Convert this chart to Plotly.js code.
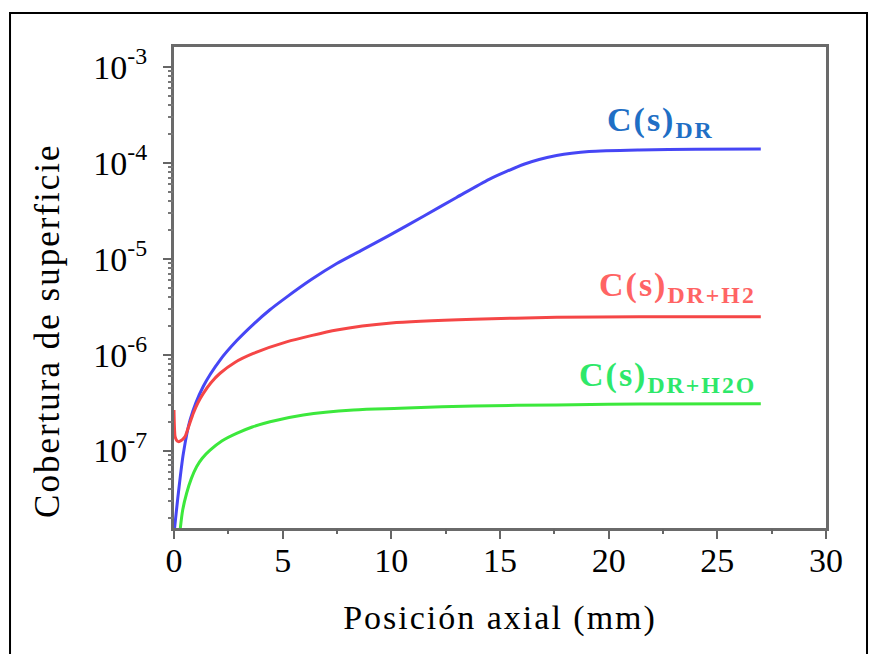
<!DOCTYPE html>
<html>
<head>
<meta charset="utf-8">
<script src="https://cdn.plot.ly/plotly-3.0.1.min.js"></script>
<style>
  html, body { margin: 0; padding: 0; background: #ffffff; }
  #chart { width: 872px; height: 654px; }
  .xtitle, .annotation-text { letter-spacing: 2px; }
</style>
</head>
<body>
<div id="chart"></div>
<script>
// Axial position (mm) and surface coverage values
const xDR = [0.02, 0.2, 0.43, 0.74, 1.35, 2.12, 2.9, 3.65, 4.4, 5.18, 6.3, 7.49, 8.6, 9.8, 11.5, 13.0, 14.5, 15.3, 16.1, 16.8, 17.6, 18.3, 19.1, 21.4, 24.0, 27.0];
const yDR = [1.5e-8, 3.59e-8, 9.33e-8, 2.09e-7, 4.68e-7, 8.79e-7, 1.41e-6, 2.07e-6, 2.92e-6, 3.98e-6, 6.03e-6, 8.91e-6, 1.216e-5, 1.70e-5, 2.79e-5, 4.35e-5, 6.73e-5, 8.13e-5, 9.66e-5, 1.084e-4, 1.189e-4, 1.259e-4, 1.312e-4, 1.361e-4, 1.387e-4, 1.396e-4];

const xDRH2 = [0.0, 0.05, 0.12, 0.2, 0.3, 0.4, 0.51, 0.7, 0.89, 1.1, 1.35, 1.7, 2.12, 2.8, 3.65, 5.18, 7.49, 10.0, 13.8, 17.6, 21.4, 27.0];
const yDRH2 = [2.65e-7, 1.40e-7, 1.28e-7, 1.24e-7, 1.26e-7, 1.31e-7, 1.40e-7, 1.85e-7, 2.45e-7, 3.15e-7, 3.95e-7, 5.1e-7, 6.40e-7, 8.3e-7, 1.03e-6, 1.36e-6, 1.81e-6, 2.14e-6, 2.34e-6, 2.45e-6, 2.49e-6, 2.49e-6];

const xDRH2O = [0.25, 0.4, 0.58, 0.8, 1.04, 1.3, 1.66, 2.2, 2.88, 3.6, 4.42, 5.95, 8.25, 10.4, 13.8, 17.6, 21.4, 27.0];
const yDRH2O = [1.26e-8, 2.4e-8, 3.59e-8, 5.13e-8, 6.79e-8, 8.32e-8, 1.01e-7, 1.26e-7, 1.51e-7, 1.76e-7, 2.0e-7, 2.35e-7, 2.65e-7, 2.76e-7, 2.92e-7, 2.99e-7, 3.06e-7, 3.08e-7];

const xTickVals = [0, 5, 10, 15, 20, 25, 30];
const yTickVals = [1e-7, 1e-6, 1e-5, 1e-4, 1e-3];
const yTickText = ['10<sup>-7</sup>', '10<sup>-6</sup>', '10<sup>-5</sup>', '10<sup>-4</sup>', '10<sup>-3</sup>'];

const labelDR = 'C(s)<sub>DR</sub>';
const labelDRH2 = 'C(s)<sub>DR+H2</sub>';
const labelDRH2O = 'C(s)<sub>DR+H2O</sub>';
const xTitle = 'Posición axial (mm)';
const yTitle = 'Cobertura de superficie';

const FONT = 'Liberation Serif';

// minor tick positions (axis styling only)
const yMinor = [];
for (let d = -8; d <= -3; d++) {
  for (let m = 2; m <= 9; m++) yMinor.push(m * Math.pow(10, d));
}
const xMinor = [2.5, 7.5, 12.5, 17.5, 22.5, 27.5];

const traces = [
  {x: xDR, y: yDR, mode: 'lines', line: {color: '#4646f5', width: 3, shape: 'spline', smoothing: 0.8}, name: 'DR'},
  {x: xDRH2, y: yDRH2, mode: 'lines', line: {color: '#f54646', width: 3, shape: 'spline', smoothing: 0.6}, name: 'DR+H2'},
  {x: xDRH2O, y: yDRH2O, mode: 'lines', line: {color: '#3ce83c', width: 3, shape: 'spline', smoothing: 0.9}, name: 'DR+H2O'},
  {x: [0], y: [1e-5], xaxis: 'x2', yaxis: 'y2', mode: 'markers', marker: {opacity: 0}, hoverinfo: 'skip', showlegend: false}
];

const annotations = [
  {x: 19.83, y: -3.575, xref: 'x', yref: 'y', text: '<b>' + labelDR + '</b>', showarrow: false, xanchor: 'left', yanchor: 'middle',
   font: {family: FONT, size: 34, color: '#1f6fc5'}},
  {x: 19.46, y: -5.295, xref: 'x', yref: 'y', text: '<b>' + labelDRH2 + '</b>', showarrow: false, xanchor: 'left', yanchor: 'middle',
   font: {family: FONT, size: 34, color: '#ff6464'}},
  {x: 18.54, y: -6.233, xref: 'x', yref: 'y', text: '<b>' + labelDRH2O + '</b>', showarrow: false, xanchor: 'left', yanchor: 'middle',
   font: {family: FONT, size: 34, color: '#2ee86a'}},
  {x: -0.193, y: 0.41, xref: 'paper', yref: 'paper', text: yTitle, showarrow: false, textangle: -90,
   xanchor: 'center', yanchor: 'middle', font: {family: FONT, size: 35, color: '#000000'}}
];

const layout = {
  width: 872, height: 654,
  margin: {l: 174, r: 46, t: 47, b: 126, pad: 0},
  paper_bgcolor: '#ffffff', plot_bgcolor: '#ffffff',
  showlegend: false,
  font: {family: FONT, color: '#000000', size: 33},
  xaxis: {
    range: [0, 30], tickmode: 'array', tickvals: xTickVals,
    ticks: 'outside', ticklen: 8, tickwidth: 2, tickcolor: '#666666',
    showline: true, linecolor: '#6a6a6a', linewidth: 3, mirror: true,
    showgrid: false, zeroline: false,
    tickfont: {family: FONT, size: 34, color: '#000000'},
    ticklabelstandoff: -8,
    title: {text: xTitle, font: {family: FONT, size: 34, color: '#000000'}, standoff: 28}
  },
  yaxis: {
    type: 'log', range: [-7.807, -2.793], tickmode: 'array', tickvals: yTickVals, ticktext: yTickText,
    ticks: 'outside', ticklen: 8, tickwidth: 2, tickcolor: '#666666',
    showline: true, linecolor: '#6a6a6a', linewidth: 3, mirror: true,
    showgrid: false, zeroline: false,
    tickfont: {family: FONT, size: 34, color: '#000000'},
    ticklabelstandoff: 9
  },
  xaxis2: {
    overlaying: 'x', anchor: 'y2', side: 'bottom', range: [0, 30], tickmode: 'array', tickvals: xMinor,
    ticks: 'outside', ticklen: 5, tickwidth: 2, tickcolor: '#666666',
    showticklabels: false, showline: false, showgrid: false, zeroline: false
  },
  yaxis2: {
    overlaying: 'y', anchor: 'x2', side: 'left', type: 'log', range: [-7.807, -2.793], tickmode: 'array', tickvals: yMinor,
    ticks: 'outside', ticklen: 5, tickwidth: 1.5, tickcolor: '#777777',
    showticklabels: false, showline: false, showgrid: false, zeroline: false
  },
  annotations: annotations,
  shapes: [
    {type: 'rect', xref: 'paper', yref: 'paper', x0: -0.2515, x1: 1.0629, y0: -0.30, y1: 1.0707,
     line: {color: '#000000', width: 2}, fillcolor: 'rgba(0,0,0,0)', layer: 'below'}
  ]
};

Plotly.newPlot('chart', traces, layout, {displayModeBar: false});
</script>
</body>
</html>
